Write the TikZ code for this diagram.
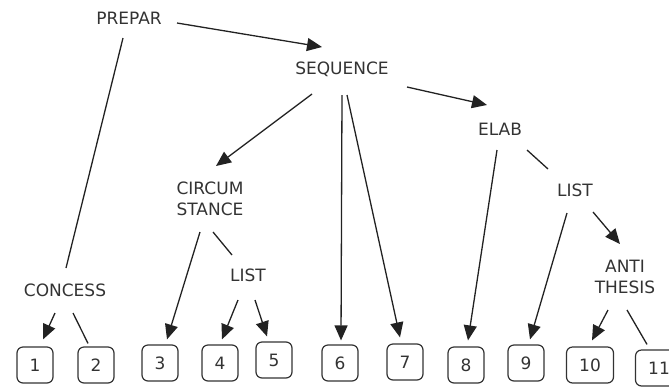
\documentclass[tikz,border=0pt]{standalone}
\usepackage{fontspec}
\setmainfont{DejaVu Sans}
\usetikzlibrary{arrows.meta,calc}
\definecolor{ink}{HTML}{222222}
\definecolor{txt}{HTML}{333333}
\begin{document}
\begin{tikzpicture}[x=1bp,y=-1bp,
  lbl/.style={text=txt,font=\fontsize{17bp}{21.5bp}\selectfont,align=center,inner sep=0pt},
  leaf/.style={draw=txt,line width=1.2bp,rounded corners=6bp,minimum width=36bp,minimum height=36bp,
    inner sep=0pt,text=txt,font=\fontsize{17bp}{20bp}\selectfont},
  wide/.style={leaf,minimum width=47bp},
  link/.style={draw=ink,line width=1.3bp},
  arr/.style={link,-{Triangle[length=15bp,width=13bp]}}]
\clip (0,0) rectangle (669,387);

% relation labels
\node[lbl] (prepar) at (129,18) {PREPAR};
\node[lbl] (seq) at (342,69) {SEQUENCE};
\node[lbl] (elab) at (500,129) {ELAB};
\node[lbl] (circ) at (210,199) {CIRCUM\\STANCE};
\node[lbl] (listA) at (248,275) {LIST};
\node[lbl] (concess) at (65,290) {CONCESS};
\node[lbl] (listB) at (575,190) {LIST};
\node[lbl] (anti) at (625,277) {ANTI\\THESIS};

% text segments
\node[leaf] (b1) at (35,365) {1};
\node[leaf] (b2) at (96,365) {2};
\node[leaf] (b3) at (160,363) {3};
\node[leaf] (b4) at (220,363) {4};
\node[leaf] (b5) at (274,360) {5};
\node[leaf] (b6) at (340,363) {6};
\node[leaf] (b7) at (405,362) {7};
\node[leaf] (b8) at (466,365) {8};
\node[leaf] (b9) at (526,363) {9};
\node[wide] (b10) at (590,365) {10};
\node[wide] (b11) at (659,368) {11};

% connectors
\draw[arr]  ($(prepar)+(48,5)$) -- ($(seq)+(-20,-22)$);
\draw[link] ($(prepar)+(-6,20)$) -- ($(concess)+(1,-22)$);
\draw[arr]  ($(seq)+(-30,25)$) -- ($(circ)+(6,-33)$);
\draw[arr]  ($(seq)+(65,18)$) -- ($(elab)+(-13,-24)$);
\draw[arr]  ($(seq)+(0,26)$) -- ($(b6.north)+(1,-4)$);
\draw[arr]  ($(seq)+(5,26)$) -- ($(b7.north)+(-5,-6)$);
\draw[arr]  ($(elab)+(-3,21)$) -- ($(b8.north)+(2,-6)$);
\draw[link] ($(elab)+(27,21)$) -- ($(listB)+(-27,-21)$);
\draw[arr]  ($(listB)+(-8,23)$) -- ($(b9.north)+(4,-5)$);
\draw[arr]  ($(listB)+(18,22)$) -- ($(anti)+(-5,-33)$);
\draw[arr]  ($(anti)+(-17,33)$) -- ($(b10.north)+(2,-6)$);
\draw[link] ($(anti)+(2,33)$) -- ($(b11.north)+(-12,-5)$);
\draw[arr]  ($(circ)+(-10,33)$) -- ($(b3.north)+(7,-5)$);
\draw[link] ($(circ)+(3,33)$) -- ($(listA)+(-16,-20)$);
\draw[arr]  ($(listA)+(-10,25)$) -- ($(b4.north)+(2,-5)$);
\draw[arr]  ($(listA)+(7,25)$) -- ($(b5.north)+(-7,-5)$);
\draw[arr]  ($(concess)+(-10,23)$) -- ($(b1.north)+(8,-7)$);
\draw[link] ($(concess)+(8,23)$) -- ($(b2.north)+(-8,-3)$);
\end{tikzpicture}
\end{document}
